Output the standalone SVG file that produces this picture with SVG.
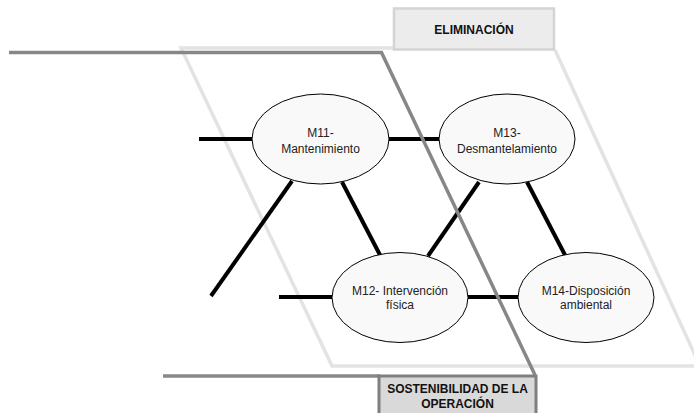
<svg xmlns="http://www.w3.org/2000/svg" width="694" height="413" viewBox="0 0 694 413">
  <style>
    .band-light { fill: none; stroke: #e3e3e3; stroke-width: 3.5; stroke-linejoin: miter; }
    .band-dark { fill: none; stroke: #878787; stroke-width: 3.5; stroke-linejoin: miter; }
    .link { stroke: #000; stroke-width: 4; fill: none; }
    .node ellipse { fill: #f9f9f9; stroke: #000; stroke-width: 1; }
    .node text { font-family: "Liberation Sans", Arial, sans-serif; font-size: 12px; fill: #222; text-anchor: middle; }
    .tag text { font-family: "Liberation Sans", Arial, sans-serif; font-size: 12px; font-weight: bold; fill: #111; text-anchor: middle; }
  </style>

  <rect width="694" height="413" fill="#fff"/>

  <!-- light band: ELIMINACIÓN phase -->
  <g id="band-eliminacion">
    <polyline class="band-light" points="393,48 181,48 332,366 694,366"/>
    <line class="band-light" x1="555" y1="50" x2="700" y2="366"/>
    <g class="tag" id="tag-eliminacion">
      <rect x="394" y="8.5" width="160" height="41" fill="#ececec" stroke="#d4d4d4" stroke-width="2.5"/>
      <text x="474" y="33.5">ELIMINACIÓN</text>
    </g>
  </g>

  <!-- connectors between activities -->
  <g id="connectors">
    <line class="link" x1="199" y1="139" x2="253" y2="139"/>
    <line class="link" x1="388" y1="139" x2="440" y2="139"/>
    <line class="link" x1="292" y1="181" x2="211" y2="296"/>
    <line class="link" x1="342" y1="182" x2="380" y2="255"/>
    <line class="link" x1="479" y1="182" x2="428" y2="256"/>
    <line class="link" x1="527" y1="182" x2="565" y2="255"/>
    <line class="link" x1="279" y1="297" x2="333" y2="297"/>
    <line class="link" x1="467" y1="297" x2="519" y2="297"/>
  </g>

  <!-- dark band: SOSTENIBILIDAD DE LA OPERACIÓN phase -->
  <g id="band-sostenibilidad">
    <polyline class="band-dark" points="9,52.5 381.5,52.5 535,375"/>
    <line class="band-dark" x1="163" y1="376" x2="380" y2="376"/>
    <g class="tag" id="tag-sostenibilidad">
      <rect x="379" y="376" width="157" height="42" fill="#d9d9d9" stroke="#7f7f7f" stroke-width="3"/>
      <text x="457.5" y="392.5">SOSTENIBILIDAD DE LA</text>
      <text x="457.5" y="407.5">OPERACIÓN</text>
    </g>
  </g>

  <!-- activity nodes -->
  <g class="node" id="m11">
    <ellipse cx="320.5" cy="139" rx="68.5" ry="45"/>
    <text x="320.5" y="137">M11-</text>
    <text x="320.5" y="152.5">Mantenimiento</text>
  </g>
  <g class="node" id="m13">
    <ellipse cx="507" cy="139" rx="68" ry="45"/>
    <text x="507" y="137">M13-</text>
    <text x="507" y="152.5">Desmantelamiento</text>
  </g>
  <g class="node" id="m12">
    <ellipse cx="400" cy="297.5" rx="68" ry="45"/>
    <text x="400" y="294.5">M12- Intervención</text>
    <text x="400" y="308.5">física</text>
  </g>
  <g class="node" id="m14">
    <ellipse cx="586" cy="297.5" rx="68" ry="45"/>
    <text x="586" y="294.5">M14-Disposición</text>
    <text x="586" y="308.5">ambiental</text>
  </g>
</svg>
